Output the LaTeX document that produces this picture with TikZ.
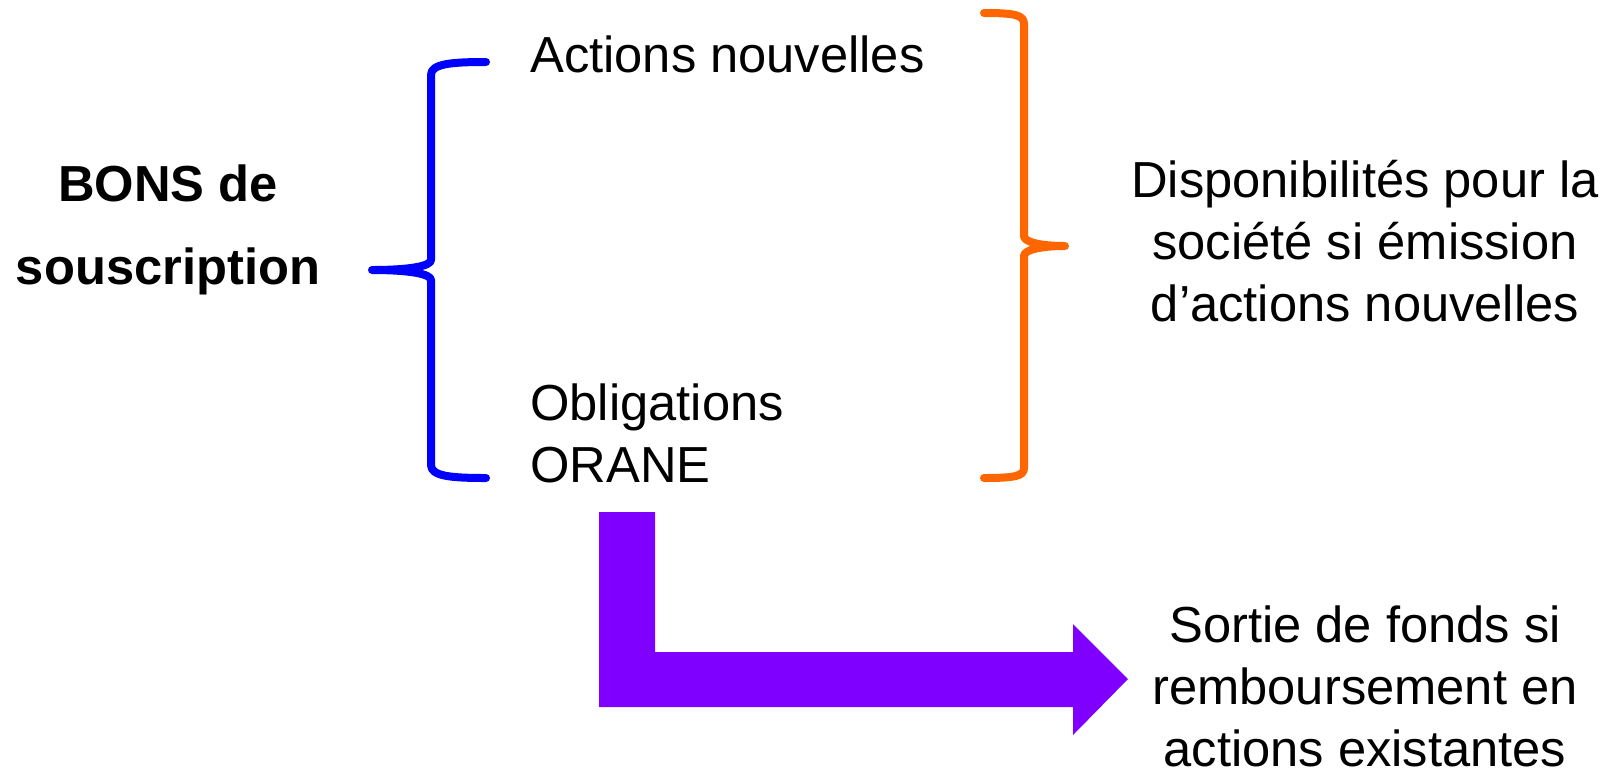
\documentclass[tikz,border=0pt]{standalone}
\usepackage{fontspec}
\setmainfont{Liberation Sans}
\usepackage{xcolor}
\usepackage{tikz}

\begin{document}
\begin{tikzpicture}[x=0.75pt,y=0.75pt,yscale=-1,xscale=1]
\useasboundingbox (0,0) rectangle (1617,769);
\tikzset{lbl/.style={inner sep=0pt, font=\fontsize{38}{46.5}\selectfont}}

%Shape: Brace [blue]
\draw [color={rgb, 255:red, 0; green, 0; blue, 255 }, line width=6, line cap=round, line join=round]
  (486,62) .. controls (450,62) and (431,64) .. (431,75) -- (431,260) .. controls (431,266) and (410,270) .. (372,270)
  .. controls (410,270) and (431,274) .. (431,280) -- (431,465) .. controls (431,476) and (450,478) .. (486,478) ;
%Shape: Brace [orange]
\draw [color={rgb, 255:red, 255; green, 102; blue, 0 }, line width=6, line cap=round, line join=round]
  (984,13) .. controls (1015,13) and (1024,15) .. (1024,24) -- (1024,236) .. controls (1024,242) and (1040,246) .. (1065,246)
  .. controls (1040,246) and (1024,250) .. (1024,256) -- (1024,468) .. controls (1024,476) and (1015,478) .. (984,478) ;
%Shape: Bent Arrow [purple]
\fill [color={rgb, 255:red, 128; green, 0; blue, 255 }]
  (599,512) -- (655,512) -- (655,652) -- (1073,652) -- (1073,624) -- (1128,679) -- (1073,735) -- (1073,707) -- (599,707) -- cycle ;

% Text Node
\node [lbl, align=center, font=\fontsize{38}{62}\selectfont\bfseries] (bons) at (168,230) {BONS de\\souscription};
% Text Node
\node [lbl, anchor=west] (actions) at (530,54) {Actions nouvelles};
% Text Node
\node [lbl, anchor=west, align=left] (oblig) at (530,433) {Obligations\\ORANE};
% Text Node
\node [lbl, align=center] (dispo) at (1365,241) {Disponibilités pour la\\société si émission\\d’actions nouvelles};
% Text Node
\node [lbl, align=center] (sortie) at (1365,686) {Sortie de fonds si\\remboursement en\\actions existantes};
\end{tikzpicture}
\end{document}
